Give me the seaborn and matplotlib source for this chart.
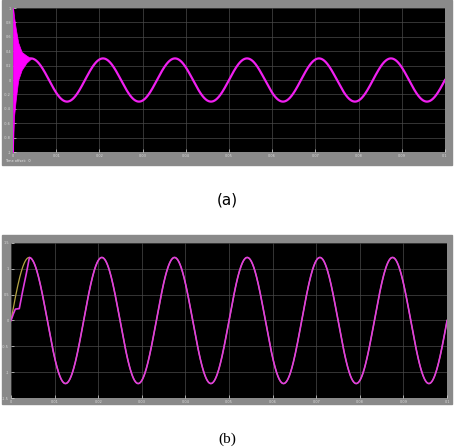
import numpy as np
import pandas as pd
import seaborn as sns
import matplotlib.pyplot as plt
from matplotlib.patches import Rectangle

# signal
freq_hz = 60.0
amp_a = 0.30
amp_b = 1.22
t_end = 0.1

# (a) start-up burst envelope (time, value)
burst_t = [0.0, 0.0001, 0.00023, 0.00062, 0.0012, 0.0020, 0.0031, 0.0042]
burst_hi = [1.0, 0.96, 0.88, 0.72, 0.52, 0.39, 0.34, 0.30]
burst_lo = [-1.0, -0.74, -0.51, -0.28, 0.0, 0.14, 0.24, 0.30]

# (b) magenta start-up path before it locks onto the reference
start_t = [0.0, 0.0006, 0.0010, 0.0019, 0.0027, 0.0035, 0.0042]
start_v = [0.0, 0.14, 0.22, 0.23, 0.58, 0.90, 1.22]

xticks = [0, 0.01, 0.02, 0.03, 0.04, 0.05, 0.06, 0.07, 0.08, 0.09, 0.1]
yticks_a = [-1, -0.8, -0.6, -0.4, -0.2, 0, 0.2, 0.4, 0.6, 0.8, 1]
yticks_b = [-1.5, -1, -0.5, 0, 0.5, 1, 1.5]

t = np.linspace(0, t_end, 4001)
wave_a = amp_a * np.sin(2 * np.pi * freq_hz * t)
wave_b = amp_b * np.sin(2 * np.pi * freq_hz * t)

fig = plt.figure(figsize=(4.6, 4.48), dpi=100)
frame_col = "#8a8a8a"
fig.patches.append(Rectangle((0.0043, 0.6317), 0.978, 0.368, transform=fig.transFigure,
                             color=frame_col, zorder=-10))
fig.patches.append(Rectangle((0.0043, 0.0982), 0.978, 0.377, transform=fig.transFigure,
                             color=frame_col, zorder=-10))

ax1 = fig.add_axes([0.0283, 0.6607, 0.939, 0.3214])
ax2 = fig.add_axes([0.0239, 0.1116, 0.948, 0.346])


def scope_style(ax, yticks):
    ax.set_facecolor("black")
    ax.set_xlim(0, t_end)
    ax.set_ylim(yticks[0], yticks[-1])
    ax.set_xticks(xticks)
    ax.set_yticks(yticks)
    ax.set_xticklabels([f"{v:g}" for v in xticks])
    ax.set_yticklabels([f"{v:g}" for v in yticks])
    ax.tick_params(labelsize=2.5, colors="#dddddd", length=2, width=0.5, pad=1.5,
                   direction="in")
    ax.grid(True, color="#4a4a4a", linestyle="-", linewidth=0.5)
    for s in ax.spines.values():
        s.set_visible(False)
    ax.set_xlabel("")
    ax.set_ylabel("")


# panel (a)
mask_a = t >= burst_t[-1]
df_a = pd.DataFrame({"t": t[mask_a], "v": wave_a[mask_a]})
ax1.fill_between(burst_t, burst_lo, burst_hi, color="#ff00ff", linewidth=0.5, zorder=3)
sns.lineplot(data=df_a, x="t", y="v", ax=ax1, color="#f020f0", linewidth=1.6, zorder=3)
scope_style(ax1, yticks_a)
fig.text(0.012, 0.638, "Time offset:  0", fontsize=2.5, color="#eeeeee")

# panel (b)
df_ref = pd.DataFrame({"t": t, "v": wave_b})
mask_b = t >= start_t[-1]
df_b = pd.DataFrame({"t": np.concatenate([start_t, t[mask_b]]),
                     "v": np.concatenate([start_v, wave_b[mask_b]])})
sns.lineplot(data=df_ref, x="t", y="v", ax=ax2, color="#b4a444", linewidth=0.9, zorder=2)
sns.lineplot(data=df_b, x="t", y="v", ax=ax2, color="#e03ce0", linewidth=1.2, zorder=3,
             sort=False)
scope_style(ax2, yticks_b)

fig.text(0.495, 0.553, "(a)", fontsize=11, ha="center", va="center", family="DejaVu Sans")
fig.text(0.495, 0.02, "(b)", fontsize=11, ha="center", va="center", family="Liberation Serif")

fig.savefig("out.png", dpi=100)
